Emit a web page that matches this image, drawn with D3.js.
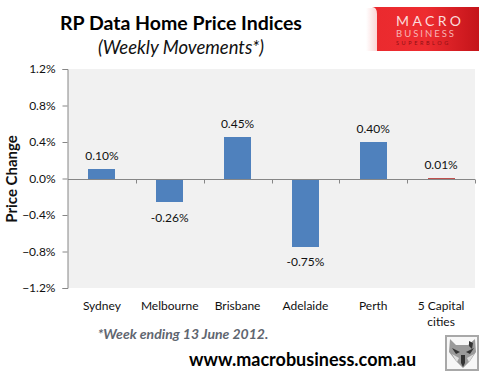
<!DOCTYPE html>
<html lang="en">
<head>
    <meta charset="UTF-8">
    <title>RP Data Home Price Indices</title>
    <style type="text/css">
        html, body { padding:0; margin:0; background:#fff; }
        svg { display:block; font-family:Lato, sans-serif; }
        .domain { stroke:#868686; }
        .tick line { stroke:#868686; }
    </style>
</head>
<body>
<script src="https://d3js.org/d3.v7.min.js"></script>
<script type="text/javascript">
    var categories = ['Sydney', 'Melbourne', 'Brisbane', 'Adelaide', 'Perth', '5 Capital cities'];
    var changes = [0.10, -0.26, 0.45, -0.75, 0.40, 0.01];
    var valueLabels = ['0.10%', '-0.26%', '0.45%', '-0.75%', '0.40%', '0.01%'];
    var barColors = ['#4f81bd', '#4f81bd', '#4f81bd', '#4f81bd', '#4f81bd', '#c0504d'];
    var yTicks = [1.2, 0.8, 0.4, 0, -0.4, -0.8, -1.2];

    var width = 488,
        height = 382,
        plotLeft = 68,
        plotRight = 475,
        plotTop = 69,
        plotBottom = 288;

    var svg = d3.select('body').append('svg')
            .attr('width', width)
            .attr('height', height);

    var defs = svg.append('defs');
    var logoFill = defs.append('linearGradient').attr('id', 'logoFill')
            .attr('x1', 0).attr('y1', 0).attr('x2', 1).attr('y2', 0);
    logoFill.append('stop').attr('offset', 0).attr('stop-color', '#ea2a2e');
    logoFill.append('stop').attr('offset', 0.5).attr('stop-color', '#ee2c30');
    logoFill.append('stop').attr('offset', 1).attr('stop-color', '#c4141a');
    var logoFade = defs.append('linearGradient').attr('id', 'logoFade')
            .attr('x1', 0).attr('y1', 0).attr('x2', 1).attr('y2', 0);
    logoFade.append('stop').attr('offset', 0).attr('stop-color', '#ffffff');
    logoFade.append('stop').attr('offset', 1).attr('stop-color', '#fbd5d5');

    var xScale = d3.scaleBand().domain(categories).range([plotLeft, plotRight]).paddingInner(0.6).paddingOuter(0.3);
    var yScale = d3.scaleLinear().domain([-1.2, 1.2]).range([plotBottom, plotTop]);

    svg.append('rect')
        .attr('x', plotLeft).attr('y', plotTop)
        .attr('width', plotRight - plotLeft).attr('height', plotBottom - plotTop)
        .attr('fill', '#f1f1f1');

    svg.selectAll('rect.bar')
        .data(changes)
        .enter()
        .append('rect')
        .attr('class', 'bar')
        .attr('x', function(d, i) { return xScale(categories[i]); })
        .attr('y', function(d) { return yScale(Math.max(d, 0)); })
        .attr('width', xScale.bandwidth())
        .attr('height', function(d) { return Math.max(Math.abs(yScale(d) - yScale(0)), 1); })
        .attr('shape-rendering', 'crispEdges')
        .attr('fill', function(d, i) { return barColors[i]; });

    var yAxis = d3.axisLeft(yScale)
            .tickValues(yTicks)
            .tickSize(5)
            .tickPadding(7)
            .tickFormat(function(d) { return d3.format('.1f')(d) + '%'; });

    var yG = svg.append('g')
        .attr('transform', 'translate(' + (plotLeft - 0.5) + ',0)')
        .call(yAxis);
    yG.selectAll('text').attr('font-size', 12).attr('font-family', 'Lato, sans-serif').attr('fill', '#111');

    // category axis sits on zero, ticks between the bars, labels are placed low by hand
    var zeroY = Math.round(yScale(0)) + 0.5;
    var step = xScale.step();
    var xG = svg.append('g').attr('transform', 'translate(0,' + zeroY + ')');
    xG.append('line')
        .attr('x1', plotLeft).attr('x2', plotRight)
        .attr('stroke', '#868686');
    xG.selectAll('line.tick-mark')
        .data(categories)
        .enter()
        .append('line')
        .attr('class', 'tick-mark')
        .attr('x1', function(d) { return Math.round(xScale(d) + xScale.bandwidth() / 2 + step / 2) + 0.5; })
        .attr('x2', function(d) { return Math.round(xScale(d) + xScale.bandwidth() / 2 + step / 2) + 0.5; })
        .attr('y1', 0).attr('y2', 4)
        .attr('stroke', '#868686');

    svg.selectAll('text.value')
        .data(changes)
        .enter()
        .append('text')
        .attr('class', 'value')
        .attr('x', function(d, i) { return xScale(categories[i]) + xScale.bandwidth() / 2; })
        .attr('y', function(d) { return d >= 0 ? yScale(d) - 9 : yScale(d) + 19.5; })
        .attr('text-anchor', 'middle')
        .attr('font-size', 12)
        .attr('fill', '#111')
        .text(function(d, i) { return valueLabels[i]; });

    // category labels, the last one wraps on two lines
    var labels = svg.selectAll('text.cat')
        .data(categories)
        .enter()
        .append('text')
        .attr('class', 'cat')
        .attr('y', 310)
        .attr('text-anchor', 'middle')
        .attr('font-size', 12)
        .attr('fill', '#111');
    labels.each(function(d) {
        var lines = d === '5 Capital cities' ? ['5 Capital', 'cities'] : [d];
        var cx = xScale(d) + xScale.bandwidth() / 2;
        d3.select(this).selectAll('tspan')
            .data(lines)
            .enter()
            .append('tspan')
            .attr('x', cx)
            .attr('dy', function(l, i) { return i ? 16 : 0; })
            .text(function(l) { return l; });
    });

    svg.append('text')
        .attr('transform', 'translate(17,179) rotate(-90)')
        .attr('text-anchor', 'middle')
        .attr('font-size', 15)
        .attr('font-weight', 700)
        .attr('fill', '#111')
        .text('Price Change');

    svg.append('text')
        .attr('x', 181).attr('y', 30)
        .attr('text-anchor', 'middle')
        .attr('font-size', 19.5)
        .attr('font-weight', 700)
        .attr('fill', '#000')
        .text('RP Data Home Price Indices');

    svg.append('text')
        .attr('x', 181).attr('y', 54)
        .attr('text-anchor', 'middle')
        .attr('font-size', 18.5)
        .attr('font-style', 'italic')
        .attr('fill', '#111')
        .text('(Weekly Movements*)');

    svg.append('text')
        .attr('x', 183).attr('y', 339)
        .attr('text-anchor', 'middle')
        .attr('font-size', 14)
        .attr('font-weight', 700)
        .attr('font-style', 'italic')
        .attr('fill', '#5f6670')
        .text('*Week ending 13 June 2012.');

    svg.append('text')
        .attr('x', 189).attr('y', 366)
        .attr('font-size', 18)
        .attr('font-weight', 700)
        .attr('fill', '#000')
        .text('www.macrobusiness.com.au');

    // logo top right
    var logo = svg.append('g');
    logo.append('rect')
        .attr('x', 366).attr('y', 8).attr('width', 11).attr('height', 43)
        .attr('fill', 'url(#logoFade)');
    logo.append('path')
        .attr('d', 'M372 7H479V51H377V14Q377 7 372 7Z')
        .attr('fill', 'url(#logoFill)');
    logo.append('text').attr('x', 396).attr('y', 25.5)
        .attr('font-size', 14).attr('letter-spacing', 3.4).attr('fill', '#fbdcdc').text('MACRO');
    logo.append('text').attr('x', 396).attr('y', 37)
        .attr('font-size', 9.5).attr('letter-spacing', 2).attr('fill', '#f7b5b5').text('BUSINESS');
    logo.append('text').attr('x', 396).attr('y', 45)
        .attr('font-size', 5.5).attr('letter-spacing', 2.6).attr('fill', '#8e1014').text('SUPERBLOG');

    // small wolf badge bottom right
    var wolf = svg.append('g');
    wolf.append('rect')
        .attr('x', 446).attr('y', 336).attr('width', 32).attr('height', 34)
        .attr('fill', '#f7f7f7').attr('stroke', '#a8a8a8').attr('stroke-width', 2);
    wolf.append('path')
        .attr('d', 'M450 339L456 345H468L475 339L476 352L470 361L463 368L456 361L449 352Z')
        .attr('fill', '#9a9a9a');
    wolf.append('path')
        .attr('d', 'M452 348L460 352L456 354ZM474 348L466 352L470 354ZM461 355H465L465 363L463 367L461 363ZM469 341L473 343L472 349L469 346Z')
        .attr('fill', '#333');
    wolf.append('path')
        .attr('d', 'M452 354L459 358L457 362ZM474 354L467 358L469 362Z')
        .attr('fill', '#dedede');
</script>
</body>
</html>
